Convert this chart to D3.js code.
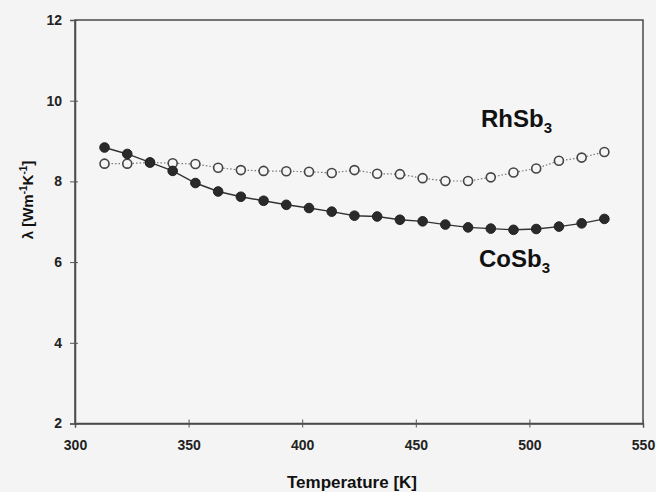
<!DOCTYPE html>
<html>
<head>
<meta charset="utf-8">
<script src="https://cdn.jsdelivr.net/npm/d3@7"></script>
<style>
  body { margin: 0; background: #f4f4f4; }
  svg { display: block; }
</style>
</head>
<body>
<div id="chart"></div>
<script>
// temperatures [K]
var temps = [313, 323, 333, 343, 353, 363, 373, 383, 393, 403, 413, 423,
             433, 443, 453, 463, 473, 483, 493, 503, 513, 523, 533];

// lambda [W m^-1 K^-1]
var cosb3 = [8.84, 8.68, 8.47, 8.26, 7.96, 7.75, 7.62, 7.52, 7.42, 7.34, 7.25, 7.15,
             7.13, 7.05, 7.01, 6.93, 6.86, 6.83, 6.80, 6.82, 6.88, 6.96, 7.07];
var rhsb3 = [8.44, 8.44, 8.47, 8.45, 8.43, 8.34, 8.28, 8.26, 8.25, 8.24, 8.21, 8.28,
             8.19, 8.18, 8.08, 8.01, 8.01, 8.10, 8.22, 8.32, 8.51, 8.59, 8.73];

var xTicks = [300, 350, 400, 450, 500, 550];
var yTicks = [2, 4, 6, 8, 10, 12];

var W = 656, H = 492;
var font = "Arial, 'Liberation Sans', sans-serif";

var svg = d3.select("#chart").append("svg")
  .attr("width", W)
  .attr("height", H)
  .style("font-family", font);

svg.append("rect").attr("width", W).attr("height", H).attr("fill", "#f4f4f4");

var x = d3.scaleLinear().domain([300, 550]).range([75, 643]);
var y = d3.scaleLinear().domain([2, 12]).range([423.5, 20]);

// frame
svg.append("rect")
  .attr("x", x(300)).attr("y", y(12))
  .attr("width", x(550) - x(300)).attr("height", y(2) - y(12))
  .attr("fill", "#f5f5f5")
  .attr("stroke", "#4a4a4a")
  .attr("stroke-width", 1.5);

// X axis
var xAxis = svg.append("g")
  .attr("transform", "translate(0," + y(2) + ")")
  .call(d3.axisBottom(x).tickValues(xTicks).tickSize(4).tickPadding(13));
xAxis.select(".domain").attr("stroke", "#4a4a4a").attr("stroke-width", 1.5);
xAxis.selectAll(".tick line").attr("y1", -4).attr("stroke", "#555");
xAxis.selectAll(".tick text")
  .attr("fill", "#222")
  .style("font-size", "14px")
  .style("font-weight", "bold")
  .style("font-family", font);

// Y axis
var yAxis = svg.append("g")
  .attr("transform", "translate(" + x(300) + ",0)")
  .call(d3.axisLeft(y).tickValues(yTicks).tickSize(5).tickPadding(8));
yAxis.select(".domain").attr("stroke", "#4a4a4a").attr("stroke-width", 1.5);
yAxis.selectAll(".tick line").attr("x1", 3).attr("stroke", "#555");
yAxis.selectAll(".tick text")
  .attr("fill", "#222")
  .style("font-size", "14px")
  .style("font-weight", "bold")
  .style("font-family", font);

// axis titles
svg.append("text")
  .attr("x", 352)
  .attr("y", 488)
  .attr("text-anchor", "middle")
  .style("font-size", "17px")
  .style("font-weight", "bold")
  .attr("fill", "#111")
  .text("Temperature [K]");

var yt = svg.append("text")
  .attr("transform", "translate(33,200) rotate(-90)")
  .attr("text-anchor", "middle")
  .style("font-size", "15px")
  .style("font-weight", "bold")
  .attr("fill", "#111");
yt.append("tspan").text("\u03bb [Wm");
yt.append("tspan").attr("dy", -6).style("font-size", "10px").text("-1");
yt.append("tspan").attr("dy", 6).text("K");
yt.append("tspan").attr("dy", -6).style("font-size", "10px").text("-1");
yt.append("tspan").attr("dy", 6).text("]");

var rows = temps.map(function(t, i) { return {t: t, co: cosb3[i], rh: rhsb3[i]}; });

var lineCo = d3.line().x(function(d) { return x(d.t); }).y(function(d) { return y(d.co); });
var lineRh = d3.line().x(function(d) { return x(d.t); }).y(function(d) { return y(d.rh); });

// RhSb3 - open circles, dotted line
svg.append("path")
  .datum(rows)
  .attr("fill", "none")
  .attr("stroke", "#777")
  .attr("stroke-width", 1.2)
  .attr("stroke-dasharray", "1.5,2")
  .attr("d", lineRh);

svg.selectAll("circle.rh")
  .data(rows)
  .join("circle")
  .attr("class", "rh")
  .attr("cx", function(d) { return x(d.t); })
  .attr("cy", function(d) { return y(d.rh); })
  .attr("r", 4.5)
  .attr("fill", "#f5f5f5")
  .attr("stroke", "#444")
  .attr("stroke-width", 1.6);

// CoSb3 - filled circles, solid line
svg.append("path")
  .datum(rows)
  .attr("fill", "none")
  .attr("stroke", "#333")
  .attr("stroke-width", 1.4)
  .attr("d", lineCo);

svg.selectAll("circle.co")
  .data(rows)
  .join("circle")
  .attr("class", "co")
  .attr("cx", function(d) { return x(d.t); })
  .attr("cy", function(d) { return y(d.co); })
  .attr("r", 4.8)
  .attr("fill", "#2a2a2a")
  .attr("stroke", "#222")
  .attr("stroke-width", 1);

// series labels
function label(txt, lx, ly) {
  var t = svg.append("text")
    .attr("x", lx)
    .attr("y", ly)
    .style("font-size", "24px")
    .style("font-weight", "bold")
    .attr("fill", "#111");
  t.append("tspan").text(txt);
  t.append("tspan").attr("dy", 6).style("font-size", "15px").text("3");
}
label("RhSb", 481, 127);
label("CoSb", 479, 267);
</script>
</body>
</html>
